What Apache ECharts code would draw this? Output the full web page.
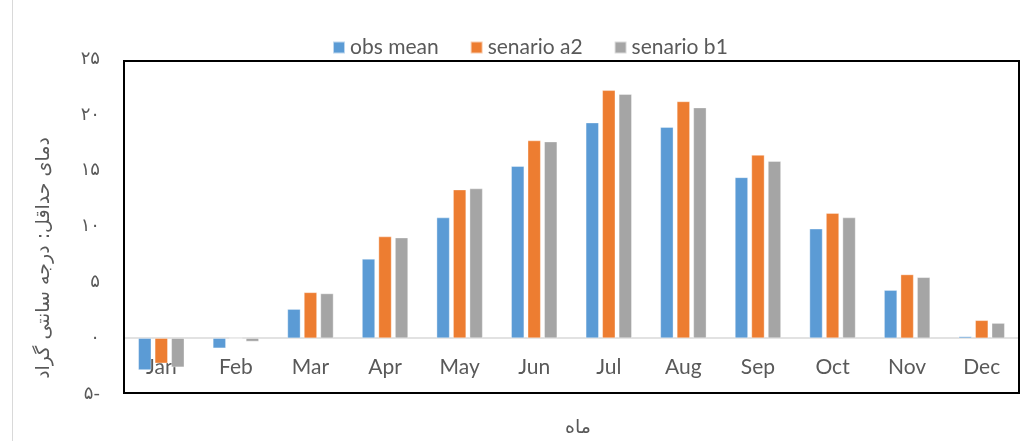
<!DOCTYPE html>
<html>
<head>
<meta charset="utf-8">
<script src="https://cdn.jsdelivr.net/npm/echarts@6/dist/echarts.min.js"></script>
<style>html,body{margin:0;padding:0;background:#fff;}#c{width:1033px;height:441px;}</style>
</head>
<body>
<div id="c"></div>
<script>
var months = ['Jan','Feb','Mar','Apr','May','Jun','Jul','Aug','Sep','Oct','Nov','Dec'];
var obsMean   = [-2.85, -0.9, 2.6, 7.1, 10.8, 15.4, 19.3, 18.9, 14.4, 9.8, 4.3, 0.15];
var senarioA2 = [-2.25, 0.0, 4.1, 9.1, 13.3, 17.7, 22.2, 21.2, 16.4, 11.2, 5.7, 1.6];
var senarioB1 = [-2.6, -0.3, 4.0, 9.0, 13.4, 17.6, 21.85, 20.65, 15.85, 10.8, 5.45, 1.35];
var seriesNames = ['obs mean', 'senario a2', 'senario b1'];
var yTickLabels = {'-5':'۵-','0':'۰','5':'۵','10':'۱۰','15':'۱۵','20':'۲۰','25':'۲۵'};
var yAxisTitle = 'دمای حداقل: درجه سانتی گراد';
var xAxisTitle = 'ماه';

var chart = echarts.init(document.getElementById('c'), null, {renderer:'canvas'});
var colors = ['#5B9BD5', '#ED7D31', '#A5A5A5'];
function bar(name, data, color) {
  return {
    name: name, type: 'bar', data: data, barWidth: 13, barGap: '27%',
    itemStyle: {color: color, borderColor: 'rgba(255,255,255,0.6)', borderWidth: 0.6},
    animation: false
  };
}
chart.setOption({
  animation: false,
  color: colors,
  grid: {left: 124, right: 14, top: 59, bottom: 47, containLabel: false, outerBoundsMode: 'none'},
  legend: {
    data: seriesNames, left: 332, top: 37, padding: 0, itemGap: 31, itemWidth: 12, itemHeight: 12,
    icon: 'rect',
    textStyle: {fontFamily: 'Lato', fontSize: 21, color: '#595959'}
  },
  xAxis: {
    type: 'category', data: months,
    axisLine: {show: true, onZero: true, lineStyle: {color: '#d9d9d9', width: 1.5}},
    axisTick: {show: false},
    axisLabel: {margin: -37, fontFamily: 'Lato', fontSize: 21, color: '#595959'},
    nameMoveOverlap: false
  },
  yAxis: {
    type: 'value', min: -5, max: 25, interval: 5,
    splitLine: {show: false},
    axisLine: {show: false}, axisTick: {show: false},
    axisLabel: {
      margin: 24, fontFamily: 'DejaVu Sans', fontSize: 18, color: '#595959',
      formatter: function (v) { return yTickLabels[String(v)]; }
    }
  },
  graphic: [
    {type: 'line', shape: {x1: 12.5, y1: 0, x2: 12.5, y2: 441}, style: {stroke: '#d9d9d9', lineWidth: 1}, silent: true},
    {type: 'rect', shape: {x: 124, y: 61, width: 895, height: 332}, style: {fill: 'none', stroke: '#000', lineWidth: 2}, silent: true, z: 10},
    {type: 'text', x: 44, y: 258, rotation: Math.PI / 2,
     style: {text: yAxisTitle, fontFamily: 'DejaVu Sans', fontSize: 19, fill: '#595959', textAlign: 'center', textVerticalAlign: 'middle'}},
    {type: 'text', x: 578, y: 428,
     style: {text: xAxisTitle, fontFamily: 'DejaVu Sans', fontSize: 19, fill: '#595959', textAlign: 'center', textVerticalAlign: 'middle'}}
  ],
  series: [
    bar(seriesNames[0], obsMean, colors[0]),
    bar(seriesNames[1], senarioA2, colors[1]),
    bar(seriesNames[2], senarioB1, colors[2])
  ]
});
</script>
</body>
</html>
